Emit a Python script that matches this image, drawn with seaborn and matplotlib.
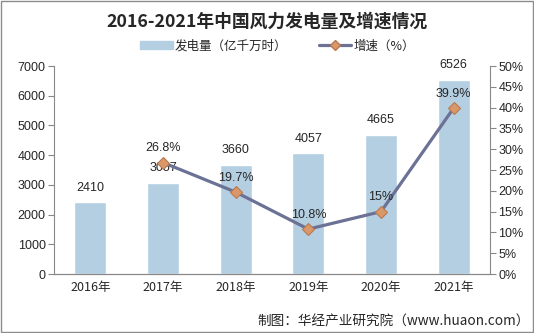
import matplotlib
matplotlib.use("Agg")
import matplotlib.pyplot as plt
import seaborn as sns
import numpy as np
import pandas as pd
from matplotlib.patches import Rectangle
from matplotlib.lines import Line2D
from matplotlib.ticker import FuncFormatter, MultipleLocator

years = ["2016年", "2017年", "2018年", "2019年", "2020年", "2021年"]
power = [2410, 3057, 3660, 4057, 4665, 6526]
growth_years = ["2017年", "2018年", "2019年", "2020年", "2021年"]
growth = [26.8, 19.7, 10.8, 15, 39.9]
growth_labels = ["26.8%", "19.7%", "10.8%", "15%", "39.9%"]
title = "2016-2021年中国风力发电量及增速情况"
bar_name = "发电量（亿千万时）"
line_name = "增速（%）"
source = "制图：华经产业研究院（www.huaon.com）"

sns.set_theme(style="white")
plt.rcParams['font.family'] = ['Noto Sans CJK SC', 'DejaVu Sans']

bar_color = "#b5cfe2"
line_color = "#6b7295"
mk_face = "#d9976a"
mk_edge = "#b9794f"
txt = "#262626"

fig = plt.figure(figsize=(5.34, 3.33), dpi=100)
ax = fig.add_axes([0.1011, 0.177, 0.8165, 0.6248])

df = pd.DataFrame({"year": years, "power": power})
sns.barplot(data=df, x="year", y="power", order=years, color=bar_color,
            width=0.44, saturation=1, ax=ax)
ax.set_ylim(0, 7000)
ax.yaxis.set_major_locator(MultipleLocator(1000))
ax.set_xlim(-0.5, len(years) - 0.5)
ax.set_xlabel("")
ax.set_ylabel("")
for i, v in enumerate(power):
    ax.text(i, v + 300, str(v), ha="center", va="bottom", fontsize=9, color=txt,
            family=['Liberation Sans', 'DejaVu Sans'])

ax2 = ax.twinx()
pos = [years.index(y) for y in growth_years]
gdf = pd.DataFrame({"x": pos, "g": growth})
sns.lineplot(data=gdf, x="x", y="g", ax=ax2, color=line_color, linewidth=2.3,
             marker="D", markersize=6.5, markerfacecolor=mk_face,
             markeredgecolor=mk_edge, markeredgewidth=0.8)
ax2.set_ylim(0, 50)
ax2.yaxis.set_major_locator(MultipleLocator(5))
ax2.yaxis.set_major_formatter(FuncFormatter(lambda v, p: f"{int(v)}%"))
ax2.set_xlim(-0.5, len(years) - 0.5)
ax2.set_xlabel("")
ax2.set_ylabel("")
for x, g, lab in zip(pos, growth, growth_labels):
    ax2.text(x, g + 2.0, lab, ha="center", va="bottom", fontsize=9, color=txt,
             family=['Liberation Sans', 'DejaVu Sans'])

for a in (ax, ax2):
    a.spines["top"].set_visible(False)
    for s in ["left", "right", "bottom"]:
        a.spines[s].set_color("#888888")
        a.spines[s].set_linewidth(0.8)
    a.tick_params(axis="y", length=4, width=0.8, color="#888888", labelsize=9,
                  labelcolor=txt, pad=2)
    for t in a.get_yticklabels():
        t.set_family(['Liberation Sans', 'DejaVu Sans'])
ax2.spines["left"].set_visible(False)
ax.spines["right"].set_visible(False)

ax.set_xticks(np.arange(-0.5, len(years) + 0.5, 1), minor=True)
ax.tick_params(axis="x", which="minor", length=4, width=0.8, color="#888888")
ax.tick_params(axis="x", which="major", length=0, labelsize=9, labelcolor=txt, pad=5)
ax.set_xticks(range(len(years)))
ax.set_xticklabels(years)

fig.text(0.5, 0.934, title, ha="center", va="center", fontsize=12.8,
         fontweight="bold", color=txt)

handles = [Rectangle((0, 0), 1, 1, color=bar_color),
           Line2D([], [], color=line_color, linewidth=2.3, marker="D", markersize=5,
                  markerfacecolor=mk_face, markeredgecolor=mk_edge)]
fig.legend(handles, [bar_name, line_name], loc="center", bbox_to_anchor=(0.52, 0.862),
           ncol=2, frameon=False, fontsize=9, handlelength=2.6, handleheight=0.6,
           columnspacing=2.5, handletextpad=0.2)

fig.text(0.993, 0.035, source, ha="right", va="center", fontsize=9.8, color=txt)

fig.patches.append(Rectangle((0.002, 0.003), 0.996, 0.994, transform=fig.transFigure,
                             fill=False, edgecolor="#8c8c8c", linewidth=1.0))

fig.savefig("out.png", dpi=100)
